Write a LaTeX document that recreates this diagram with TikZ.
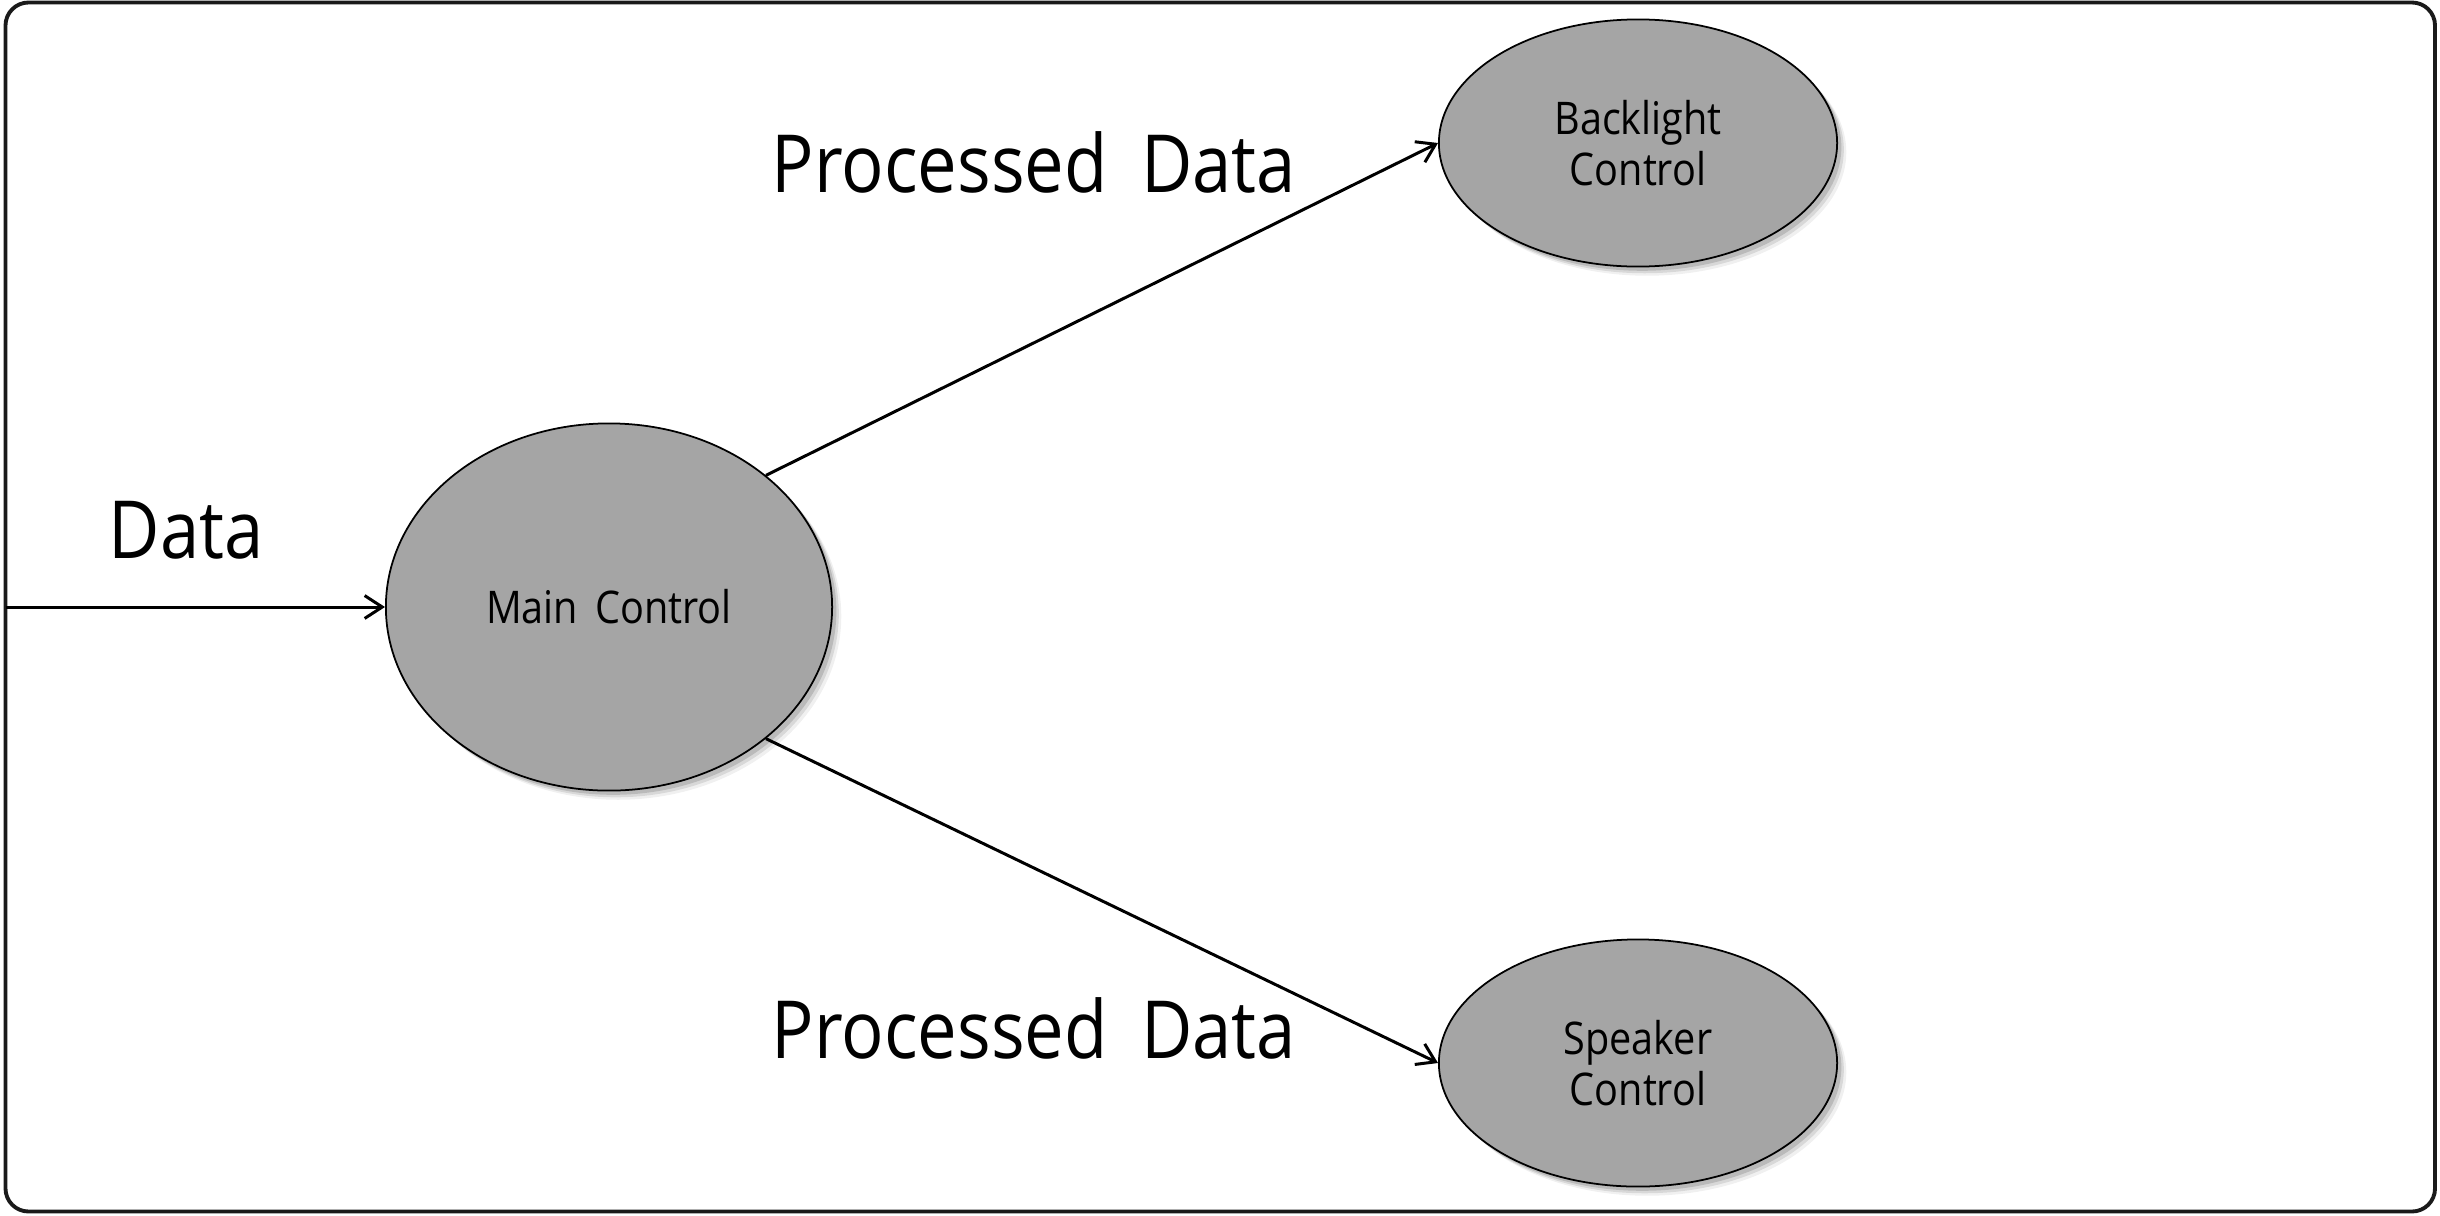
\documentclass[tikz,border=0pt]{standalone}
\usepackage{fontspec}
\setmainfont{Open Sans}[FakeStretch=0.88]
\usetikzlibrary{shapes.geometric,arrows.meta,shadows}
\definecolor{nodegray}{RGB}{165,165,165}
\definecolor{framecol}{RGB}{26,26,26}
\newcommand\mynodefont{\fontsize{12.8}{14.6}\selectfont\spaceskip 0.38em plus 0pt minus 0pt\relax}
\newcommand\mylabelfont{\fontsize{22.8}{28}\selectfont\spaceskip 0.42em plus 0pt minus 0pt\relax}
\tikzset{
  procnode/.style={ellipse, draw=black, line width=0.5pt, fill=nodegray, inner sep=0pt,
    align=center, font=\mynodefont,
    drop shadow={shadow xshift=2.6pt,shadow yshift=-2.6pt,opacity=0.06,fill=black},
    drop shadow={shadow xshift=1.9pt,shadow yshift=-1.9pt,opacity=0.10,fill=black},
    drop shadow={shadow xshift=1.2pt,shadow yshift=-1.2pt,opacity=0.14,fill=black}},
  flow/.style={line width=0.85pt, -{Straight Barb[length=5pt,width=6.5pt,line width=0.85pt]}},
  biglabel/.style={anchor=base, inner sep=0pt, font=\mylabelfont}
}
\begin{document}
\begin{tikzpicture}[x=0.01cm,y=-0.01cm]
\useasboundingbox (0,0) rectangle (2440,1215);
\draw[line width=1.1pt, draw=framecol, rounded corners=0.23cm] (5.5,2.5) rectangle (2435,1211.5);
\node[procnode, minimum width=4.46cm, minimum height=3.67cm] (main) at (609,607) {Main Control};
\node[procnode, minimum width=3.98cm, minimum height=2.47cm] (back) at (1638,143) {Backlight\\Control};
\node[procnode, minimum width=3.98cm, minimum height=2.47cm] (spk) at (1638,1063) {Speaker\\Control};
\coordinate (src) at (5.5,607);
\draw[flow] (src) -- (main.west);
\draw[flow] (main.40) -- (back.west);
\draw[flow] (main.-40) -- (spk.west);
\node[biglabel] (ldata) at (186,558) {Data};
\node[biglabel] (lproc1) at (1034,192) {Processed Data};
\node[biglabel] (lproc2) at (1034,1058) {Processed Data};
\end{tikzpicture}
\end{document}
